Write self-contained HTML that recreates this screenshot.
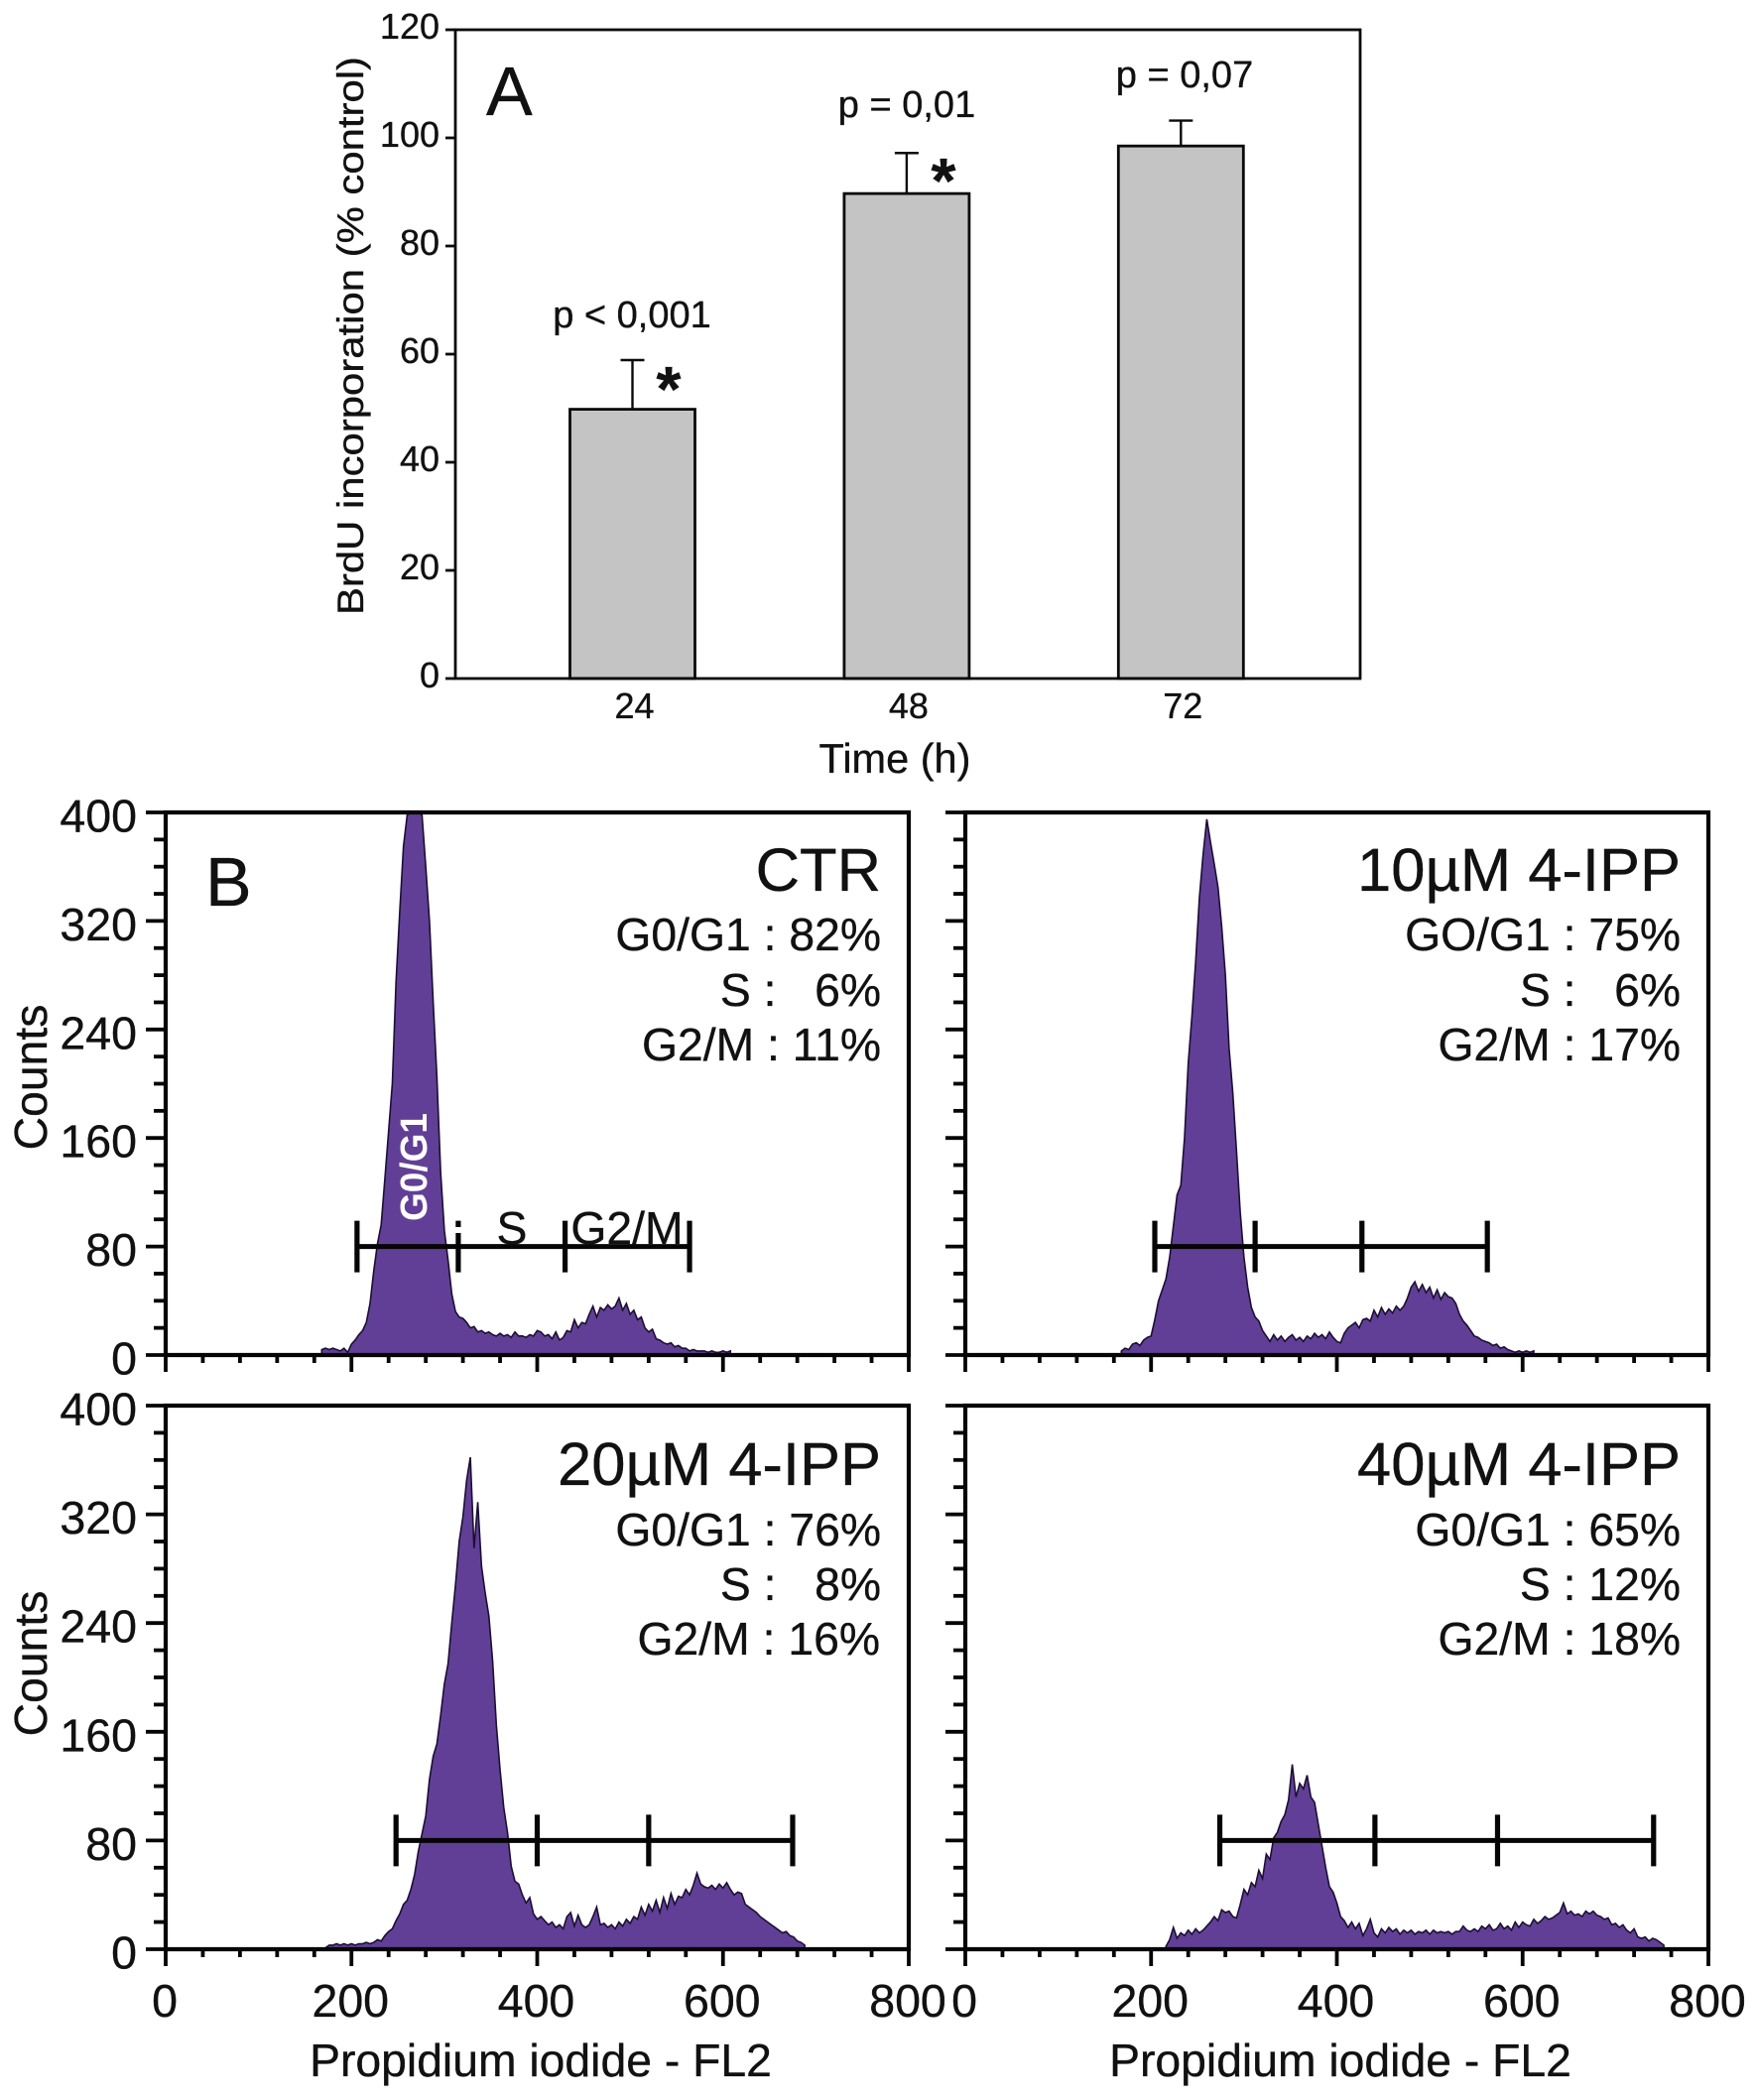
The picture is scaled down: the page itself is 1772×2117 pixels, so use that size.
<!DOCTYPE html>
<html lang="en">
<head>
<meta charset="utf-8">
<title>BrdU incorporation and cell cycle histograms</title>
<style>
html,body{margin:0;padding:0;background:#fff;}
svg{display:block;}
text{font-family:"Liberation Sans",Arial,sans-serif;fill:#111;stroke:#111;stroke-width:0.35;white-space:pre;}
</style>
</head>
<body>
<svg id="figure" xmlns="http://www.w3.org/2000/svg" width="1772" height="2117" viewBox="0 0 1772 2117">
  <rect width="1772" height="2117" fill="#fff"/>
  <g id="panel-a"></g>
  <g id="hist-ctr"></g>
  <g id="hist-10"></g>
  <g id="hist-20"></g>
  <g id="hist-40"></g>

  <g>
    <text x="490" y="116" font-size="70">A</text>
    <text transform="translate(366,338.5) rotate(-90)" text-anchor="middle" font-size="37" textLength="563" lengthAdjust="spacingAndGlyphs">BrdU incorporation (% control)</text>
    <text x="902" y="779" text-anchor="middle" font-size="41.5">Time (h)</text>
    <text x="637" y="330" text-anchor="middle" font-size="38">p &lt; 0,001</text>
    <text x="914" y="118" text-anchor="middle" font-size="38">p = 0,01</text>
    <text x="1194" y="88" text-anchor="middle" font-size="38">p = 0,07</text>
    <text x="674" y="414" text-anchor="middle" font-size="64" font-weight="bold">*</text>
    <text x="951" y="204" text-anchor="middle" font-size="64" font-weight="bold">*</text>
  </g>

  <g font-size="46.3">
    <text x="207" y="913" font-size="70">B</text>
    <text transform="translate(47,1086) rotate(-90)" text-anchor="middle">Counts</text>
    <text transform="translate(47,1677) rotate(-90)" text-anchor="middle">Counts</text>
    <text x="545" y="2093" text-anchor="middle">Propidium iodide - FL2</text>
    <text x="1351" y="2093" text-anchor="middle">Propidium iodide - FL2</text>

    <text x="888" y="898" text-anchor="end" font-size="61.5">CTR</text>
    <text x="888" y="958" text-anchor="end">G0/G1 : 82%</text>
    <text x="888" y="1014" text-anchor="end">S :   6%</text>
    <text x="888" y="1069" text-anchor="end">G2/M : 11%</text>

    <text x="1694" y="898" text-anchor="end" font-size="61.5">10µM 4-IPP</text>
    <text x="1694" y="958" text-anchor="end">GO/G1 : 75%</text>
    <text x="1694" y="1014" text-anchor="end">S :   6%</text>
    <text x="1694" y="1069" text-anchor="end">G2/M : 17%</text>

    <text x="888" y="1497" text-anchor="end" font-size="61.5">20µM 4-IPP</text>
    <text x="888" y="1558" text-anchor="end">G0/G1 : 76%</text>
    <text x="888" y="1613" text-anchor="end">S :   8%</text>
    <text x="887" y="1668" text-anchor="end">G2/M : 16%</text>

    <text x="1694" y="1497" text-anchor="end" font-size="61.5">40µM 4-IPP</text>
    <text x="1694" y="1558" text-anchor="end">G0/G1 : 65%</text>
    <text x="1694" y="1613" text-anchor="end">S : 12%</text>
    <text x="1694" y="1668" text-anchor="end">G2/M : 18%</text>

    <text transform="translate(430,1231) rotate(-90)" font-size="38" font-weight="bold" style="fill:#fff;stroke:none" textLength="109" lengthAdjust="spacingAndGlyphs">G0/G1</text>
    <text x="516" y="1254" text-anchor="middle">S</text>
    <text x="632" y="1254" text-anchor="middle">G2/M</text>
    <rect x="457" y="1237" width="10" height="6" fill="#fff"/>
  </g>
</svg>

<script>
// ---- Panel A data ----
const barCategories = ['24', '48', '72'];
const barValues = [49.8, 89.7, 98.5];
const barErrorTops = [58.9, 97.2, 103.2];
const barYTicks = [0, 20, 40, 60, 80, 100, 120];

// ---- Panel B data (counts per 4-channel bin) ----
const binWidth = 4;
const ctrStart = 168;
const ctrCounts = [4,5,4,5,4,3,5,2,8,11,15,18,24,38,62,82,96,130,165,200,275,327,375,398,400,400,400,398,360,320,260,205,135,92,70,45,32,28,27,24,20,21,17,18,16,17,15,14,16,14,15,13,17,14,14,13,15,14,18,17,14,15,12,17,11,13,18,17,26,20,24,23,30,36,28,35,33,37,34,36,42,33,38,30,33,26,28,20,17,19,12,11,9,8,9,6,7,5,5,3,4,3,3,3,2,3,2,2,3,2,3];
const um10Start = 168;
const um10Counts = [3,5,4,8,9,7,11,13,14,26,40,48,56,72,95,118,125,160,215,250,290,337,369,395,378,362,345,316,280,226,193,150,105,72,50,35,28,25,18,14,10,15,11,14,10,13,15,11,13,10,14,12,16,13,15,12,17,13,10,9,16,20,22,24,20,26,27,25,33,28,35,30,34,31,36,33,36,42,50,54,47,52,46,50,42,48,41,46,43,42,38,30,25,22,18,14,13,11,10,9,7,8,5,6,4,3,2,3,2,3,2,3];
const um20Start = 172;
const um20Counts = [1,3,3,4,3,4,3,4,3,4,4,5,4,5,7,6,10,13,15,21,26,33,36,44,55,72,85,98,125,142,151,172,195,210,240,268,300,318,345,362,295,329,282,262,245,212,165,132,104,86,61,50,48,40,34,38,26,22,24,21,18,20,16,18,15,24,27,17,25,18,16,18,24,31,18,19,16,18,15,20,17,22,19,24,22,31,25,33,28,36,27,38,30,41,33,39,38,44,40,47,56,48,46,45,47,44,48,45,49,44,40,42,41,33,31,29,27,24,22,20,18,16,14,12,13,10,9,6,5,3];
const um40Start = 216;
const um40Counts = [2,7,16,8,12,10,14,11,15,12,14,17,20,24,21,29,27,28,24,23,33,44,40,49,46,58,52,70,66,82,86,94,99,110,136,112,122,118,128,112,108,92,76,60,46,42,34,24,21,16,20,15,19,10,15,22,12,9,15,12,16,13,15,11,14,12,14,11,13,12,14,11,14,12,13,12,13,11,13,13,17,14,13,15,13,17,15,18,14,15,19,15,17,14,20,16,20,18,17,22,19,21,24,22,23,25,27,34,26,28,25,26,24,28,26,28,25,24,22,23,18,19,16,18,14,12,15,9,8,9,6,8,7,5,3];

// Gate boundaries on the channel axis, and the count level of the gate bar
const ctrGates = [206, 315, 430, 564];
const um10Gates = [204, 312, 427, 562];
const um20Gates = [248, 400, 520, 675];
const um40Gates = [274, 441, 573, 741];
const gateLevel = 80;

const histYTicks = [0, 80, 160, 240, 320, 400];
const histXTicks = [0, 200, 400, 600, 800];
const histYMinorStep = 20;
const histXMinorStep = 40;

const SVGNS = 'http://www.w3.org/2000/svg';
function make(parent, tag, attrs, txt) {
  const el = document.createElementNS(SVGNS, tag);
  for (const k in attrs) el.setAttribute(k, attrs[k]);
  if (txt !== undefined) el.textContent = txt;
  parent.appendChild(el);
  return el;
}

// ---- Panel A ----
(function () {
  const g = document.getElementById('panel-a');
  const L = 459, R = 1371, T = 30, B = 684, INK = '#0a0a0a';
  const y = v => B - (v / 120) * (B - T);
  const x = i => 637.5 + i * 276.4;
  const halfBar = 63, capHalf = 12;

  barCategories.forEach((c, i) => {
    const bar = make(g, 'rect', { x: x(i) - halfBar, y: y(barValues[i]), width: 2 * halfBar, height: B - y(barValues[i]), fill: '#c4c4c4', stroke: INK, 'stroke-width': 2.8 });
    
    
    const stem = make(g, 'line', { x1: x(i), x2: x(i), y1: y(barValues[i]), y2: y(barErrorTops[i]), stroke: INK, 'stroke-width': 2.4 });
    
    
    const cap = make(g, 'line', { x1: x(i) - capHalf, x2: x(i) + capHalf, y1: y(barErrorTops[i]), y2: y(barErrorTops[i]), stroke: INK, 'stroke-width': 2.4 });
    
    
    const lab = make(g, 'text', { x: x(i) + 2, y: 724, 'text-anchor': 'middle', 'font-size': 36 }, c);
    
    
  });

  const frame = make(g, 'rect', { x: L, y: T, width: R - L, height: B - T, fill: 'none', stroke: INK, 'stroke-width': 2.8 });
  
  

  barYTicks.forEach(v => {
    const t = make(g, 'line', { x1: L - 10, x2: L, y1: y(v), y2: y(v), stroke: INK, 'stroke-width': 2.8 });
    
    
    const lab = make(g, 'text', { x: L - 16, y: y(v) + 9, 'text-anchor': 'end', 'font-size': 36 }, String(v));
    
    
  });
})();

// ---- Panel B histograms ----
function drawHist(id, box, start, counts, gates, showY, showX) {
  const g = document.getElementById(id);
  const INK = '#050505';
  const x = c => box.L + (c / 800) * (box.R - box.L);
  const y = n => box.B - (n / 400) * (box.B - box.T);

  let d = 'M' + x(start).toFixed(2) + ' ' + y(0);
  counts.forEach((n, i) => {
    d += 'L' + x(start + i * binWidth).toFixed(2) + ' ' + y(n).toFixed(2);
  });
  d += 'L' + x(start + (counts.length - 1) * binWidth).toFixed(2) + ' ' + y(0) + 'Z';
  const area = make(g, 'path', { d: d, fill: '#613f96', stroke: '#1c0f33', 'stroke-width': 1.6, 'stroke-linejoin': 'miter' });
  
  

  // frame
  const frame = make(g, 'path', { d: 'M' + box.L + ' ' + box.B + 'V' + box.T + 'H' + box.R + 'V' + box.B + 'Z', fill: 'none', stroke: INK, 'stroke-width': 4.2 });
  
  

  // y ticks
  for (let v = 0; v <= 400; v += histYMinorStep) {
    const major = histYTicks.includes(v);
    const t = make(g, 'line', { x1: box.L - (major ? 20 : 12), x2: box.L, y1: y(v), y2: y(v), stroke: INK, 'stroke-width': 3.8 });
    
    
  }
  if (showY) histYTicks.forEach(v => {
    const lab = make(g, 'text', { x: box.L - 29, y: y(v) + 19.5, 'text-anchor': 'end', 'font-size': 46.5 }, String(v));
    
    
  });

  // x ticks
  for (let c = 0; c <= 800; c += histXMinorStep) {
    const major = histXTicks.includes(c);
    const t = make(g, 'line', { x1: x(c), x2: x(c), y1: box.B, y2: box.B + (major ? 17 : 8), stroke: INK, 'stroke-width': 3.8 });
    
    
  }
  if (showX) histXTicks.forEach(c => {
    const lab = make(g, 'text', { x: x(c) - 1, y: 2033, 'text-anchor': 'middle', 'font-size': 46.5 }, String(c));
    
    
  });

  // gate marker
  const gy = y(gateLevel);
  const bar = make(g, 'line', { x1: x(gates[0]), x2: x(gates[gates.length - 1]), y1: gy, y2: gy, stroke: INK, 'stroke-width': 5 });
  
  
  gates.forEach(c => {
    const t = make(g, 'line', { x1: x(c), x2: x(c), y1: gy - 26, y2: gy + 26, stroke: INK, 'stroke-width': 5.2 });
    
    
  });
}

const leftTop = { L: 167, R: 916, T: 819, B: 1366 };
const rightTop = { L: 973, R: 1722, T: 819, B: 1366 };
const leftBottom = { L: 167, R: 916, T: 1417, B: 1965 };
const rightBottom = { L: 973, R: 1722, T: 1417, B: 1965 };

drawHist('hist-ctr', leftTop, ctrStart, ctrCounts, ctrGates, true, false);
drawHist('hist-10', rightTop, um10Start, um10Counts, um10Gates, false, false);
drawHist('hist-20', leftBottom, um20Start, um20Counts, um20Gates, true, true);
drawHist('hist-40', rightBottom, um40Start, um40Counts, um40Gates, false, true);
</script>
</body>
</html>
